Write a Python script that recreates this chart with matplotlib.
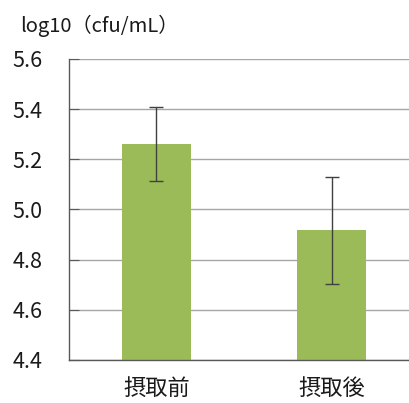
import numpy as np
import matplotlib
matplotlib.use('Agg')
import matplotlib.pyplot as plt

plt.rcParams['font.family'] = ['Noto Sans CJK JP', 'DejaVu Sans']

# ====================================
# Data
# ====================================
categories = ['摂取前', '摂取後']
means      = [5.262, 4.916]
errors     = [0.148, 0.212]

bar_color  = '#9BBB59'

# ====================================
# Figure
# ====================================
fig = plt.figure(figsize=(4.10, 4.03), dpi=100)
ax  = fig.add_axes([0.168, 0.107, 0.83, 0.747])

x = np.arange(len(categories))
ax.bar(x, means, width=0.394, color=bar_color, zorder=2)
ax.errorbar(x, means, yerr=errors, fmt='none', ecolor='#404040',
            elinewidth=1.0, capsize=5, capthick=1.0, zorder=3)

ax.set_ylim(4.4, 5.6)
ax.set_yticks(np.arange(4.4, 5.61, 0.2))
ax.set_yticklabels(['{:0.1f}'.format(v) for v in np.arange(4.4, 5.61, 0.2)])
ax.set_xlim(-0.5, 1.443)
ax.set_xticks(x)
ax.set_xticklabels(categories)

ax.grid(axis='y', color='#A6A6A6', linewidth=1.0)
ax.set_axisbelow(True)

for side in ['top', 'right']:
    ax.spines[side].set_visible(False)
for side in ['left', 'bottom']:
    ax.spines[side].set_color('#595959')
    ax.spines[side].set_linewidth(1.0)

ax.tick_params(axis='y', direction='in', length=7, color='#595959',
               labelsize=15.5, pad=19, labelcolor='#1a1a1a')
ax.tick_params(axis='x', length=0, labelsize=16, pad=12, labelcolor='#1a1a1a')

fig.text(0.048, 0.937, 'log10（cfu/mL）', fontsize=14.5, color='#1a1a1a',
         ha='left', va='center')

fig.savefig('out.png', dpi=100)
